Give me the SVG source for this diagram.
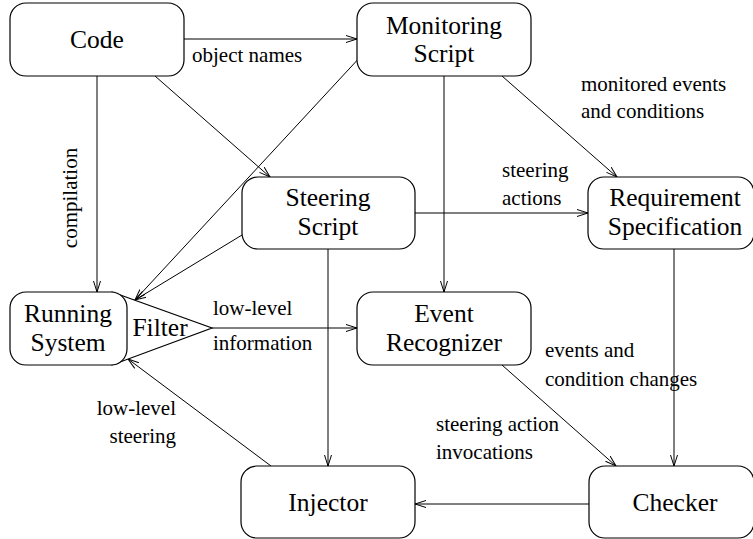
<svg xmlns="http://www.w3.org/2000/svg" width="753" height="539" viewBox="0 0 753 539" font-family="Liberation Serif, DejaVu Serif, Times New Roman, serif">
<style>
.box{fill:#fff;stroke:#000;stroke-width:1.2}
.node{font-size:25.5px;fill:#000;text-anchor:middle}
.lbl{font-size:21px;fill:#000}
.c{fill:none;stroke:#000;stroke-width:1;marker-end:url(#arr)}
</style>
<defs>
<marker id="arr" markerUnits="userSpaceOnUse" markerWidth="12" markerHeight="10" refX="11" refY="4" orient="auto" viewBox="0 0 12 8">
<path d="M0,0.5 L11,4 L0,7.5" fill="none" stroke="#000" stroke-width="1"/>
</marker>
</defs>
<g id="connectors">
<line class="c" x1="184" y1="39" x2="357" y2="39"/>
<line class="c" x1="97" y1="76" x2="97" y2="292"/>
<line class="c" x1="155" y1="76" x2="270" y2="177"/>
<line class="c" x1="362" y1="55" x2="135" y2="300"/>
<line class="c" x1="444" y1="76" x2="444" y2="292"/>
<line class="c" x1="502" y1="76" x2="617" y2="177"/>
<line class="c" x1="415" y1="213" x2="588" y2="213"/>
<line class="c" x1="242" y1="235" x2="135" y2="300"/>
<line class="c" x1="328" y1="249" x2="328" y2="466"/>
<line class="c" x1="212" y1="328" x2="357" y2="328"/>
<line class="c" x1="502" y1="365" x2="616" y2="466"/>
<line class="c" x1="674" y1="249" x2="674" y2="466"/>
<line class="c" x1="589" y1="504" x2="415" y2="504"/>
<line class="c" x1="271" y1="466" x2="128" y2="359"/>
</g>
<g id="labels" font-family="Liberation Serif, DejaVu Serif, serif">
<text class="lbl" x="192" y="62">object names</text>
<text class="lbl" x="581" y="91">monitored events</text>
<text class="lbl" x="581" y="118">and conditions</text>
<text class="lbl" x="77" y="198" text-anchor="middle" transform="rotate(-90 77 198)">compilation</text>
<text class="lbl" x="502" y="177">steering</text>
<text class="lbl" x="502" y="205">actions</text>
<text class="lbl" x="213" y="315">low-level</text>
<text class="lbl" x="213" y="350">information</text>
<text class="lbl" x="545" y="357">events and</text>
<text class="lbl" x="545" y="386">condition changes</text>
<text class="lbl" x="176" y="415" text-anchor="end">low-level</text>
<text class="lbl" x="176" y="443" text-anchor="end">steering</text>
<text class="lbl" x="436" y="431">steering action</text>
<text class="lbl" x="436" y="459">invocations</text>
</g>
<g id="filter" font-family="Liberation Serif, DejaVu Serif, serif">
<polygon points="112,292 212,328 112,365" fill="#fff" stroke="#000" stroke-width="1.2"/>
<text class="node" x="160" y="336">Filter</text>
</g>
<g id="code" font-family="Liberation Serif, DejaVu Serif, serif"><rect class="box" x="10" y="3" width="174" height="73" rx="16"/><text class="node" x="97" y="48">Code</text></g>
<g id="monitoring" font-family="Liberation Serif, DejaVu Serif, serif"><rect class="box" x="357" y="3" width="174" height="73" rx="16"/><text class="node" x="444" y="34">Monitoring</text><text class="node" x="444" y="62">Script</text></g>
<g id="steering" font-family="Liberation Serif, DejaVu Serif, serif"><rect class="box" x="242" y="177" width="173" height="72" rx="16"/><text class="node" x="328" y="206">Steering</text><text class="node" x="328" y="235">Script</text></g>
<g id="requirement" font-family="Liberation Serif, DejaVu Serif, serif"><rect class="box" x="588" y="177" width="166" height="72" rx="16"/><text class="node" x="675" y="206">Requirement</text><text class="node" x="675" y="235">Specification</text></g>
<g id="running" font-family="Liberation Serif, DejaVu Serif, serif"><rect class="box" x="10" y="292" width="117" height="73" rx="16"/><text class="node" x="68" y="322">Running</text><text class="node" x="68" y="351">System</text></g>
<g id="event" font-family="Liberation Serif, DejaVu Serif, serif"><rect class="box" x="357" y="292" width="174" height="73" rx="16"/><text class="node" x="444" y="322">Event</text><text class="node" x="444" y="351">Recognizer</text></g>
<g id="injector" font-family="Liberation Serif, DejaVu Serif, serif"><rect class="box" x="241" y="466" width="174" height="72" rx="16"/><text class="node" x="328" y="511">Injector</text></g>
<g id="checker" font-family="Liberation Serif, DejaVu Serif, serif"><rect class="box" x="589" y="466" width="165" height="72" rx="16"/><text class="node" x="675" y="511">Checker</text></g>
</svg>
